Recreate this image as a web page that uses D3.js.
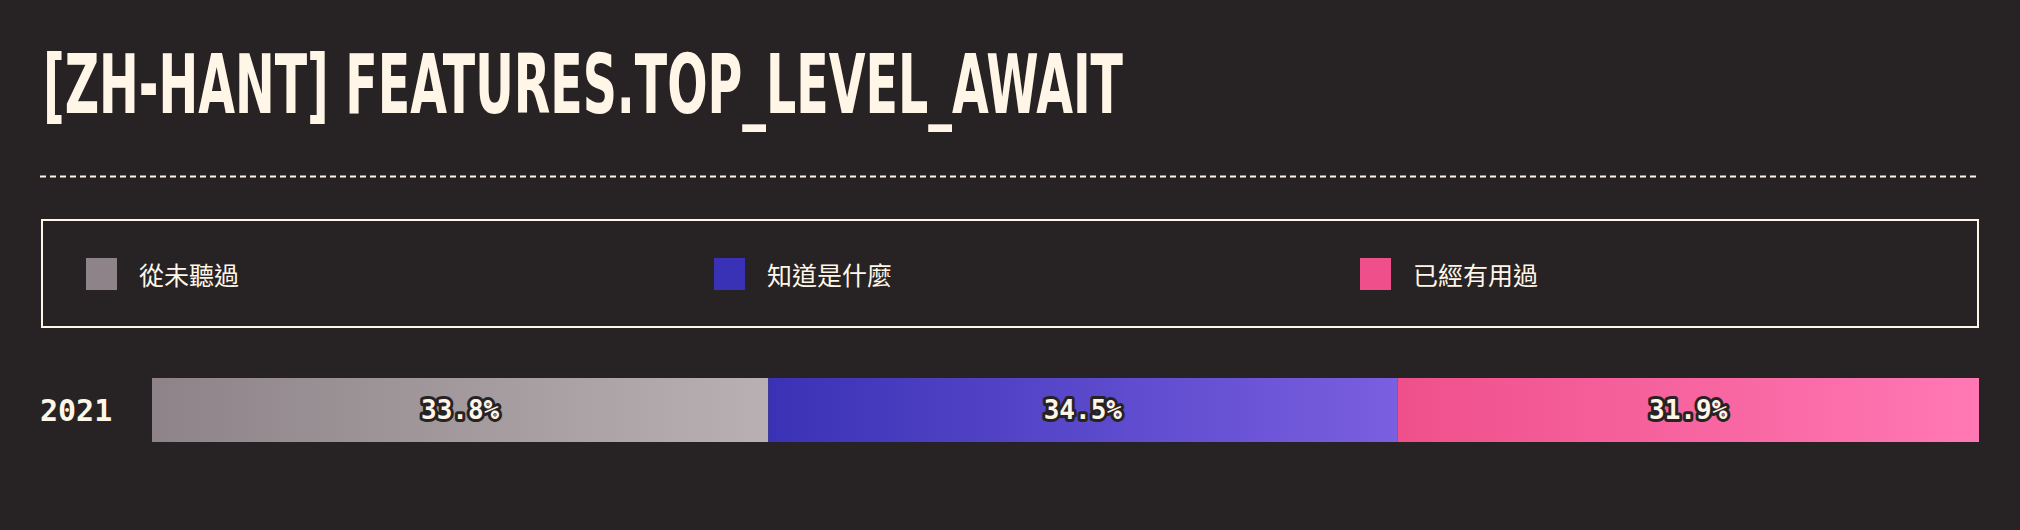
<!DOCTYPE html>
<html>
<head>
<meta charset="utf-8">
<script src="https://cdn.jsdelivr.net/npm/d3@7"></script>
<style>
  html, body { margin: 0; padding: 0; background: #272324; }
  svg { display: block; }
</style>
</head>
<body>
<div id="chart"></div>
<script>
const title = "[ZH-HANT] FEATURES.TOP_LEVEL_AWAIT";
const years = ["2021"];
const categories = ["從未聽過", "知道是什麼", "已經有用過"];
const values2021 = [33.8, 34.5, 31.9];
const swatchColors = ["#8d8388", "#3a32b6", "#ef508b"];
const gradStart = ["#8d8388", "#3a32b6", "#ef508b"];
const gradEnd = ["#b9b0b3", "#7a5fe0", "#ff78b4"];

const W = 2020, H = 530;
const bg = "#272324", cream = "#fff6e8";

const svg = d3.select("#chart").append("svg")
  .attr("width", W).attr("height", H)
  .style("background", bg);

const defs = svg.append("defs");
categories.forEach((c, i) => {
  const g = defs.append("linearGradient").attr("id", "grad" + i)
    .attr("x1", "0%").attr("x2", "100%").attr("y1", "0%").attr("y2", "0%");
  g.append("stop").attr("offset", "0%").attr("stop-color", gradStart[i]);
  g.append("stop").attr("offset", "100%").attr("stop-color", gradEnd[i]);
});

// Title
svg.append("text")
  .attr("x", 43).attr("y", 113)
  .attr("fill", cream)
  .attr("font-family", "'Liberation Sans Narrow', 'DejaVu Sans Condensed', sans-serif")
  .attr("font-weight", "bold")
  .attr("font-size", 82)
  .attr("textLength", 1080)
  .attr("lengthAdjust", "spacingAndGlyphs")
  .text(title);

// Dashed rule
svg.append("line")
  .attr("x1", 40).attr("x2", 1980).attr("y1", 176.5).attr("y2", 176.5)
  .attr("stroke", cream).attr("stroke-width", 2)
  .attr("stroke-dasharray", "6 4");

// Legend box
svg.append("rect")
  .attr("x", 42).attr("y", 220).attr("width", 1936).attr("height", 107)
  .attr("fill", "none").attr("stroke", cream).attr("stroke-width", 2);

const legendX = d3.scaleOrdinal().domain(categories).range([86, 714, 1360]);
const leg = svg.selectAll("g.leg").data(categories).enter().append("g")
  .attr("class", "leg")
  .attr("transform", d => `translate(${legendX(d)},258)`);
leg.append("rect").attr("width", 31).attr("height", 32)
  .attr("fill", (d, i) => swatchColors[i]);
leg.append("text")
  .attr("x", 53).attr("y", 16)
  .attr("dominant-baseline", "central")
  .attr("fill", cream)
  .attr("font-family", "'Noto Sans CJK TC', 'Noto Sans CJK SC', sans-serif")
  .attr("font-size", 25)
  .text(d => d);

// Bars
const total = d3.sum(values2021);
const x = d3.scaleLinear().domain([0, total]).range([152, 1979]);
const y = d3.scaleBand().domain(years).range([378, 442]).padding(0);

const stacked = [];
let acc = 0;
values2021.forEach((v, i) => { stacked.push({ cat: categories[i], v, x0: acc, x1: acc + v, i }); acc += v; });

svg.append("text")
  .attr("x", 40).attr("y", y("2021") + y.bandwidth() / 2)
  .attr("dominant-baseline", "central")
  .attr("fill", cream)
  .attr("font-family", "'DejaVu Sans Mono', monospace")
  .attr("font-weight", "bold")
  .attr("font-size", 30)
  .text("2021");

const seg = svg.selectAll("g.seg").data(stacked).enter().append("g").attr("class", "seg");
seg.append("rect")
  .attr("x", d => x(d.x0)).attr("width", d => x(d.x1) - x(d.x0))
  .attr("y", y("2021")).attr("height", y.bandwidth())
  .attr("fill", d => `url(#grad${d.i})`);
seg.append("text")
  .attr("x", d => (x(d.x0) + x(d.x1)) / 2)
  .attr("y", y("2021") + y.bandwidth() / 2)
  .attr("text-anchor", "middle")
  .attr("dominant-baseline", "central")
  .attr("fill", cream)
  .attr("stroke", bg).attr("stroke-width", 6).attr("stroke-linejoin", "round")
  .attr("paint-order", "stroke")
  .attr("font-family", "'DejaVu Sans Mono', monospace")
  .attr("font-weight", "bold")
  .attr("font-size", 26)
  .text(d => d.v.toFixed(1) + "%");
</script>
</body>
</html>
